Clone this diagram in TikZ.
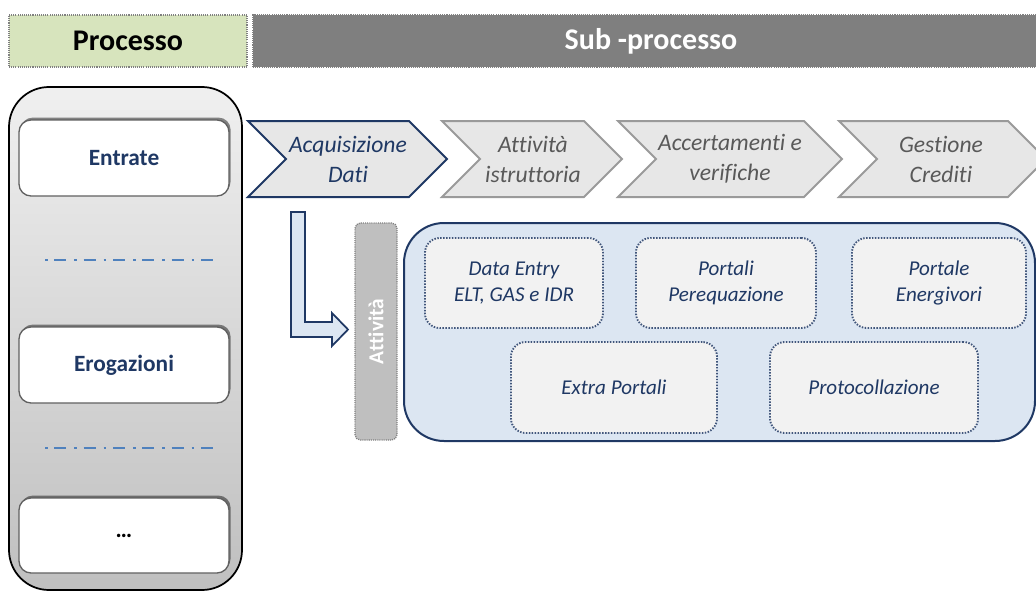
\documentclass[tikz,border=0pt]{standalone}
\usepackage{fontspec}
\setmainfont{Carlito}[Ligatures={NoCommon}]
\usetikzlibrary{fit,shadows}
\definecolor{hgreen}{HTML}{D7E4BD}
\definecolor{hgray}{HTML}{7F7F7F}
\definecolor{navy}{HTML}{1F3864}
\definecolor{dashblue}{HTML}{4F81BD}
\definecolor{panelblue}{HTML}{DCE6F2}
\definecolor{innerfill}{HTML}{F2F2F2}
\definecolor{chevfill}{HTML}{E7E7E7}
\definecolor{chevline}{HTML}{9A9A9A}
\definecolor{chevtext}{HTML}{595959}
\definecolor{attgray}{HTML}{BFBFBF}
\begin{document}
\begin{tikzpicture}[x=0.75pt,y=-0.75pt,
  hdr/.style={inner sep=0pt, draw=gray, line width=0.9pt, dash pattern=on 0.8pt off 0.8pt},
  hdrtext/.style={font=\fontsize{22.5}{25}\selectfont\bfseries},
  column/.style={inner sep=0pt, draw=black, line width=1.3pt, rounded corners=30pt,
     top color=gray!12, bottom color=gray!50},
  procbox/.style={inner sep=0pt, fill=white, draw=gray!75!black, line width=1pt, rounded corners=9pt,
     drop shadow={opacity=0.45, shadow xshift=1.2pt, shadow yshift=1.8pt, fill=black}},
  proctext/.style={text=navy, font=\fontsize{17.5}{21}\selectfont\bfseries},
  dashdot/.style={draw=dashblue, line width=2pt, dash pattern=on 2pt off 5pt on 9pt off 6pt},
  chevA/.style={fill=chevfill, draw=navy, line width=1.5pt, line join=miter},
  chevB/.style={fill=chevfill, draw=chevline, line width=1.5pt, line join=miter},
  chevtextA/.style={align=center, text=navy, font=\fontsize{17.7}{22.5}\selectfont\itshape},
  chevtextB/.style={align=center, text=chevtext, font=\fontsize{17.7}{22.5}\selectfont\itshape},
  larrow/.style={fill=panelblue, draw=navy, line width=1.3pt, line join=miter},
  attbar/.style={inner sep=0pt, fill=attgray, draw=gray, line width=1pt, dash pattern=on 0.8pt off 0.8pt, rounded corners=4pt},
  atttext/.style={text=white, font=\fontsize{16}{18}\selectfont\bfseries},
  panel/.style={inner sep=0pt, fill=panelblue, draw=navy, line width=1.5pt, rounded corners=30pt},
  inner/.style={inner sep=0pt, fill=innerfill, draw=navy!85, line width=1.4pt, dash pattern=on 1.1pt off 1.1pt,
     rounded corners=11pt},
  innertext/.style={align=center, text=navy, font=\fontsize{15.8}{19.5}\selectfont\itshape}
]
\useasboundingbox (0,0) rectangle (1036,593);
\clip (0,0) rectangle (1036,593);

% headers
\node[hdr, fill=hgreen, fit={(9,15)(247,67)}] (proc) {};
\node[hdrtext] (proct) at (proc.center) {Processo};
\node[hdr, fill=hgray, fit={(253,15)(1040,67)}] (sub) {};
\node[hdrtext, text=white] (subt) at (651,41) {Sub -processo};

% left column
\node[column, fit={(9,87)(242,590)}] (col) {};
\node[procbox, fit={(19,120)(229,196)}] (entrate) {};
\node[proctext] (entt) at (entrate.center) {Entrate};
\coordinate (d1a) at (45,260); \coordinate (d1b) at (213,260);
\draw[dashdot] (d1a) -- (d1b);
\node[procbox, fit={(19,327)(229,403)}] (erog) {};
\node[proctext] (erogt) at (erog.center) {Erogazioni};
\coordinate (d2a) at (45,448); \coordinate (d2b) at (213,448);
\draw[dashdot] (d2a) -- (d2b);
\node[procbox, fit={(19,498)(229,573)}] (dots) {};
\node[proctext, text=black] (dotst) at (dots.center) {\ldots};

% chevrons
\draw[chevA] (248,121) -- (409,121) -- (447,159) -- (409,197) -- (248,197) -- (286,159) -- cycle;
\node[chevtextA] (c1) at (348,159) {Acquisizione\\Dati};
\draw[chevB] (442,121) -- (584,121) -- (622,159) -- (584,197) -- (442,197) -- (480,159) -- cycle;
\node[chevtextB] (c2) at (533,159) {Attività\\istruttoria};
\draw[chevB] (618,121) -- (804,121) -- (842,159) -- (804,197) -- (618,197) -- (656,159) -- cycle;
\node[chevtextB] (c3) at (730,159) {Accertamenti e\\verifiche};
\draw[chevB] (839,121) -- (1008,121) -- (1046,159) -- (1008,197) -- (839,197) -- (877,159) -- cycle;
\node[chevtextB] (c4) at (941,159) {Gestione\\Crediti};

% activity bar
\node[attbar, fit={(355,223)(397,440)}] (att) {};
\node[atttext, rotate=90] (attt) at (att.center) {Attività};

% L arrow
\draw[larrow] (291,212) -- (305,212) -- (305,322) -- (332,322) -- (332,313) -- (348,329.5)
   -- (332,346) -- (332,337) -- (291,337) -- cycle;

% panel
\node[panel, fit={(404,223)(1035,441)}] (panel) {};
\node[inner, fit={(425,238)(603,328)}] (de) {};
\node[innertext] (det) at (de.center) {Data Entry\\ELT, GAS e IDR};
\node[inner, fit={(636,238)(816,328)}] (pp) {};
\node[innertext] (ppt) at (pp.center) {Portali\\Perequazione};
\node[inner, fit={(852,238)(1026,328)}] (pe) {};
\node[innertext] (pet) at (pe.center) {Portale\\Energivori};
\node[inner, fit={(511,342)(717,433)}] (ep) {};
\node[innertext] (ept) at (ep.center) {Extra Portali};
\node[inner, fit={(770,342)(978,433)}] (pr) {};
\node[innertext] (prt) at (pr.center) {Protocollazione};
\end{tikzpicture}
\end{document}
